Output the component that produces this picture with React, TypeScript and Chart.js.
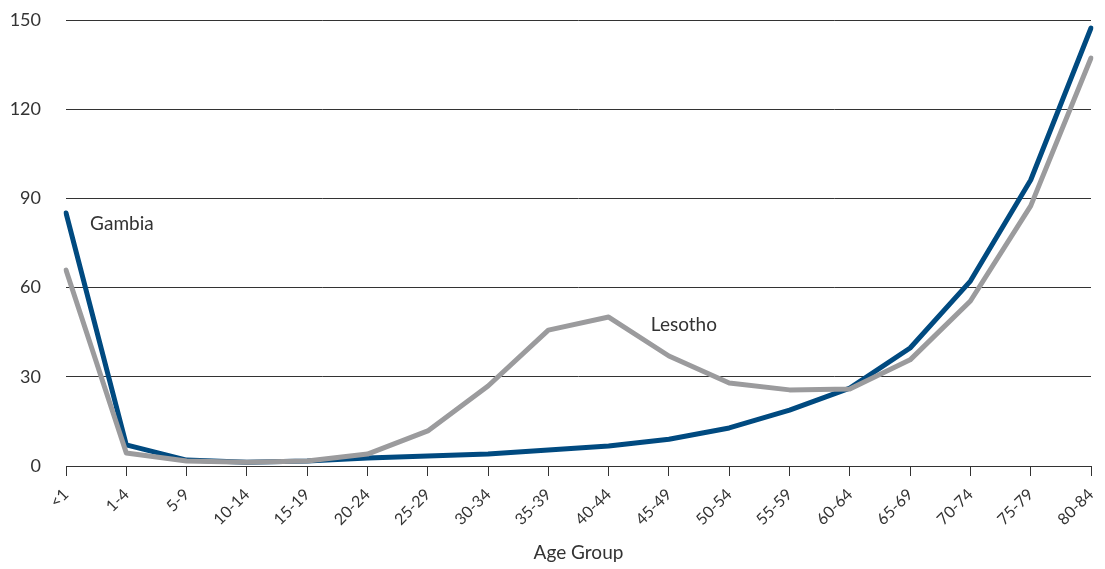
import React, { useEffect, useRef } from "react";
import { Chart, registerables } from "chart.js";

Chart.register(...registerables);

const categories = ["<1", "1-4", "5-9", "10-14", "15-19", "20-24", "25-29", "30-34", "35-39", "40-44", "45-49", "50-54", "55-59", "60-64", "65-69", "70-74", "75-79", "80-84"];
const gambia = [85.1, 7.1, 2.0, 1.3, 1.7, 2.7, 3.4, 4.0, 5.4, 6.7, 9.0, 12.8, 18.8, 26.2, 39.7, 62.2, 96.2, 147.3];
const lesotho = [65.9, 4.4, 1.7, 1.3, 1.7, 4.0, 11.8, 26.9, 45.7, 50.1, 37.0, 27.9, 25.6, 25.9, 35.7, 55.5, 87.5, 137.2];
const yTicks = [0, 30, 60, 90, 120, 150];

const FONT = "Lato, 'Noto Sans', sans-serif";
const TEXT = "#333333";
const BLUE = "#004a80";
const GRAY = "#9b9b9d";

const labelPlugin = {
  id: "seriesLabels",
  afterDatasetsDraw(chart: any) {
    const { ctx, scales } = chart;
    const x = scales.x;
    const y = scales.y;
    ctx.save();
    ctx.font = `19px ${FONT}`;
    ctx.fillStyle = TEXT;
    ctx.textAlign = "left";
    ctx.textBaseline = "middle";
    ctx.fillText("Gambia", x.getPixelForValue(0.4), y.getPixelForValue(81.4));
    ctx.fillText("Lesotho", x.getPixelForValue(9.7), y.getPixelForValue(47.4));
    ctx.restore();
  },
};

export default function App() {
  const ref = useRef<HTMLCanvasElement>(null);
  useEffect(() => {
    document.body.style.margin = "0";
    const chart = new Chart(ref.current as HTMLCanvasElement, {
      type: "line",
      data: {
        labels: categories,
        datasets: [
          { label: "Lesotho", data: lesotho, borderColor: GRAY, borderWidth: 5, borderCapStyle: "round", borderJoinStyle: "round", pointRadius: 0, tension: 0, fill: false },
          { label: "Gambia", data: gambia, borderColor: BLUE, borderWidth: 5, borderCapStyle: "round", borderJoinStyle: "round", pointRadius: 0, tension: 0, fill: false },
        ],
      },
      options: {
        animation: false,
        responsive: false,
        maintainAspectRatio: false,
        layout: { padding: { top: 20, right: 14, left: 0, bottom: 0 } },
        plugins: { legend: { display: false }, tooltip: { enabled: false } },
        scales: {
          x: {
            offset: false,
            grid: { drawOnChartArea: false, drawTicks: true, tickLength: 10, color: "#333333", lineWidth: 1 },
            border: { display: true, color: "#333333", width: 1 },
            ticks: { color: TEXT, font: { family: FONT, size: 16 }, maxRotation: 45, minRotation: 45, padding: 9, autoSkip: false },
            title: { display: true, text: "Age Group", color: TEXT, font: { family: FONT, size: 19 }, padding: { top: 0, bottom: 5 } },
            afterFit(scale: any) {
              scale.height = 103;
              scale.paddingLeft = 0;
              scale.paddingRight = 0;
            },
          },
          y: {
            min: 0,
            max: 150,
            afterBuildTicks(scale: any) { scale.ticks = yTicks.map((v) => ({ value: v })); },
            grid: { drawTicks: false, color: "#333333", lineWidth: 1 },
            border: { display: false },
            ticks: { color: TEXT, font: { family: FONT, size: 18 }, padding: 25 },
            afterFit(scale: any) {
              scale.width = 66;
              scale.paddingTop = 0;
              scale.paddingBottom = 0;
            },
          },
        },
      },
      plugins: [labelPlugin],
    });
    return () => chart.destroy();
  }, []);
  return (
    <div style={{ width: 1105, height: 569 }}>
      <canvas ref={ref} width={1105} height={569} style={{ display: "block" }} />
    </div>
  );
}
